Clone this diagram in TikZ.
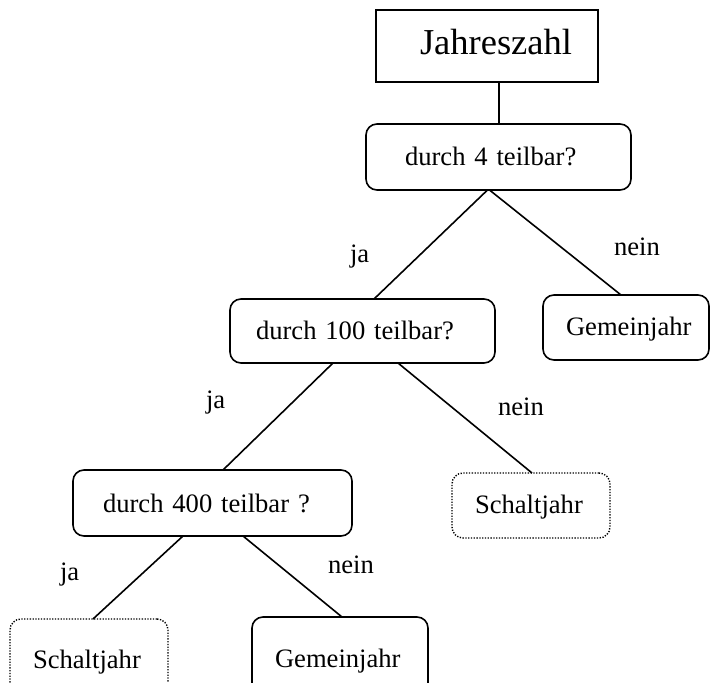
\documentclass[tikz,border=0pt]{standalone}
\usepackage{fontspec}
\setmainfont{Liberation Serif}
\begin{document}
\begin{tikzpicture}[x=1pt,y=-1pt,
  every node/.style={inner sep=0pt, outer sep=0pt},
  boxbase/.style={line width=1.6pt, align=left, text depth=0pt,
    font=\fontsize{26.6}{30}\selectfont},
  decision/.style={boxbase, draw, rounded corners=11pt},
  leaf/.style={boxbase, draw, rounded corners=11pt},
  open/.style={boxbase, draw, rounded corners=11pt, line width=1.4pt,
    dash pattern=on 1.3pt off 1.5pt},
  edge/.style={line width=1.6pt},
  answer/.style={anchor=base west, font=\fontsize{26.6}{30}\selectfont}]
\useasboundingbox (0,0) rectangle (711,682);

% start box
\node[boxbase, draw, font=\fontsize{36.5}{40}\selectfont,
      text width=222pt, minimum height=72pt, text height=18pt]
  (J) at (487,46) {\hspace*{44pt}Jahreszahl};

% questions
\node[decision, text width=265pt, minimum height=66pt, text height=16pt]
  (d4) at (498.5,157) {\hspace*{39pt}durch 4 teilbar?};
\node[decision, text width=265pt, minimum height=64pt, text height=16pt]
  (d100) at (362.5,331) {\hspace*{26pt}durch 100 teilbar?};
\node[decision, text width=279pt, minimum height=66pt, text height=18pt]
  (d400) at (212.5,503) {\hspace*{30pt}durch 400 teilbar ?};

% results
\node[leaf, text width=166pt, minimum height=65pt, text height=15pt]
  (gR) at (626,327.5) {\hspace*{23pt}Gemeinjahr};
\node[open, text width=158pt, minimum height=65pt, text height=15pt]
  (sM) at (531,505.5) {\hspace*{23pt}Schaltjahr};
\node[open, text width=158pt, minimum height=82pt, text height=16pt]
  (sL) at (89,660) {\hspace*{23pt}Schaltjahr};
\node[leaf, text width=176pt, minimum height=84pt, text height=16pt]
  (gL) at (340,659) {\hspace*{23pt}Gemeinjahr};

% connectors
\draw[edge] ([xshift=12pt]J.south) -- ([xshift=0.5pt]d4.north);
\draw[edge] ([xshift=-11pt]d4.south) -- ([xshift=11.5pt]d100.north);
\draw[edge] ([xshift=-9pt]d4.south) -- ([xshift=-5pt]gR.north);
\draw[edge] ([xshift=-29.5pt]d100.south) -- ([xshift=10.5pt]d400.north);
\draw[edge] ([xshift=35.5pt]d100.south) -- ([xshift=1pt]sM.north);
\draw[edge] ([xshift=-29.5pt]d400.south) -- ([xshift=4pt]sL.north);
\draw[edge] ([xshift=30.5pt]d400.south) -- ([xshift=2pt]gL.north);

% branch labels
\node[answer] (ja1) at (350,262) {ja};
\node[answer] (nein1) at (614,255) {nein};
\node[answer] (ja2) at (206,408) {ja};
\node[answer] (nein2) at (498,415) {nein};
\node[answer] (ja3) at (60,580) {ja};
\node[answer] (nein3) at (328,573) {nein};
\end{tikzpicture}
\end{document}
